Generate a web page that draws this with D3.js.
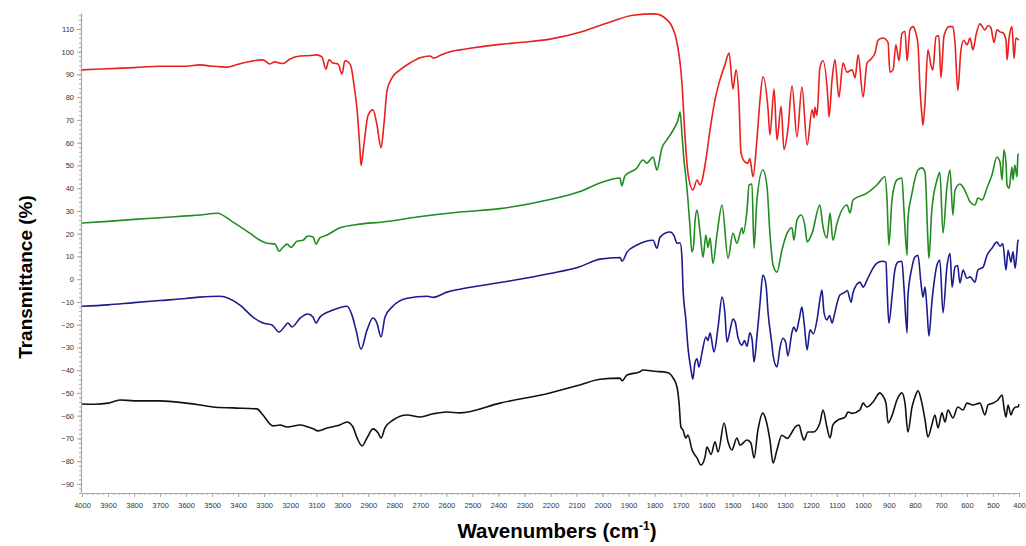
<!DOCTYPE html>
<html>
<head>
<meta charset="utf-8">
<script src="https://cdn.jsdelivr.net/npm/d3@7"></script>
<style>
  html, body { margin: 0; padding: 0; background: #fff; }
  svg { display: block; }
</style>
</head>
<body>
<svg id="chart" width="1026" height="546"></svg>
<script>
// ---- tick labels ----
const xTicks = d3.range(4000, 399, -100);
const yTicks = d3.range(-90, 111, 10);

// ---- series: [wavenumber (cm-1), transmittance (%)] ----
const redSeries = [[4000,92],[3900,92.5],[3800,93],[3700,93.6],[3600,93.6],[3547,94.2],[3500,93.6],[3443,93.2],[3400,94.5],[3350,95.8],[3305,96.4],[3278,94.6],[3260,95.5],[3247,95.2],[3228,94.8],[3201,96.8],[3162,98.1],[3124,98.3],[3101,98.6],[3078,97.7],[3063,92.3],[3051,96.4],[3036,95],[3016,94.6],[3001,90.2],[2990,96],[2978,95.5],[2967,93.7],[2955,85.4],[2943,74.4],[2932,56.8],[2928,50],[2917,59],[2901,72],[2882,74.4],[2867,68],[2851,57.8],[2840,68],[2828,83],[2809,88.5],[2778,92],[2740,95],[2701,97.3],[2663,98.1],[2648,97.2],[2625,98.3],[2586,100],[2548,100.8],[2509,101.5],[2394,103.2],[2317,104],[2202,105.5],[2087,108.5],[2010,111.5],[1960,113.5],[1883,116],[1799,116.6],[1752,114],[1733,111],[1714,104],[1695,86.3],[1684,64.3],[1672,46.7],[1653,39.2],[1637,43.6],[1626,41.4],[1603,52.4],[1587,65.6],[1568,78.8],[1549,87.6],[1530,94.2],[1514,99.4],[1499,83.6],[1487,92],[1476,78.8],[1468,55.5],[1453,51.5],[1441,51],[1434,53],[1422,45],[1407,61.2],[1395,78.8],[1384,89],[1364,74.4],[1357,63.4],[1341,83.6],[1330,61.2],[1314,76],[1303,57],[1288,65.6],[1272,85],[1253,62.5],[1234,84.5],[1214,59],[1195,74.4],[1187,71],[1184,75.5],[1176,72],[1165,93],[1153,96],[1134,78.8],[1130,71.3],[1118,88],[1107,96.4],[1092,80],[1076,95],[1061,91],[1041,92],[1030,88.5],[1018,98.6],[999,80],[984,95],[972,96.4],[953,99.4],[942,105],[922,106],[903,104],[896,91],[884,92],[873,103],[861,96],[850,108],[838,109],[830,96],[819,109.6],[807,111],[796,108],[788,103],[780,83],[773,72],[769,67.8],[761,78],[750,100.8],[738,94],[731,92],[719,106.5],[708,107],[700,88.5],[688,107],[669,111],[654,111],[646,104],[635,83],[623,100.8],[612,105],[600,103],[588,106],[577,100.8],[565,107.4],[550,112.2],[531,109.6],[519,111.5],[508,110.5],[496,104],[485,109.6],[473,108.7],[462,108.3],[450,105.2],[446,96.4],[438,106],[427,111],[419,97],[412,106],[400,105]];

const greenSeries = [[4000,24.7],[3900,25.4],[3800,26.3],[3700,27],[3600,27.8],[3547,28.2],[3481,29],[3420,25.1],[3355,20.2],[3316,17.1],[3289,15.8],[3258,15.4],[3243,12.3],[3228,14],[3212,15.4],[3197,14],[3174,16.7],[3151,17.1],[3132,19],[3112,18.5],[3101,15.4],[3086,18.1],[3059,19.4],[3009,22.6],[2932,24.2],[2844,25.1],[2713,27.3],[2548,29.5],[2394,31],[2202,35],[2087,38.5],[2010,42.3],[1933,44.5],[1926,41],[1914,45.4],[1868,48.9],[1845,52.4],[1830,51],[1806,53.7],[1791,48],[1772,57.7],[1753,61.2],[1733,64.7],[1718,67.8],[1710,70],[1702,73.5],[1695,64],[1687,52],[1680,45],[1672,35],[1664,23],[1657,12],[1650,15],[1645,25],[1637,30.4],[1625,20],[1614,9.7],[1603,19.4],[1595,14],[1587,18.1],[1576,7],[1560,20],[1541,32.6],[1518,9.2],[1499,20.2],[1484,15.8],[1464,22.6],[1460,20],[1445,30.4],[1437,41.4],[1426,41.8],[1418,13.6],[1407,34.8],[1384,48],[1368,40.5],[1357,20.2],[1345,6.2],[1330,3.1],[1311,12.7],[1291,20.2],[1272,22.6],[1265,17.1],[1253,26],[1237,28.2],[1222,23],[1214,16.4],[1195,20.2],[1165,32.6],[1153,23],[1138,18.1],[1126,29.1],[1115,17.1],[1099,24.6],[1061,32.6],[1049,29.1],[1038,34.8],[984,37.8],[946,41.4],[915,45],[907,34.8],[900,15],[888,34.8],[869,43.6],[850,44.5],[842,30.4],[830,10.5],[827,26],[811,37.8],[788,48],[773,48.9],[761,47],[750,17.1],[746,9.2],[735,30.4],[715,43.6],[704,47],[692,20.2],[677,40.5],[665,48],[654,28.2],[646,39],[627,41.8],[615,40.5],[600,37],[588,33.9],[569,32.6],[558,35.7],[542,34.8],[523,40.1],[504,45.8],[485,53.7],[473,51.5],[465,43.6],[458,56.8],[450,51],[446,41.4],[438,40],[427,49.3],[423,43.6],[416,50.2],[408,45],[404,54.6],[400,55]];

const blueSeries = [[4000,-11.9],[3900,-11.3],[3800,-10.3],[3700,-9.4],[3600,-8.5],[3547,-7.9],[3470,-7.5],[3393,-11.4],[3343,-16.7],[3305,-19.3],[3270,-20.1],[3243,-23.2],[3220,-20.6],[3209,-19.3],[3193,-21],[3162,-17.1],[3132,-15.3],[3112,-16.7],[3101,-19.3],[3086,-16.7],[3036,-13.6],[2982,-11.9],[2963,-15.7],[2947,-22.4],[2928,-30.8],[2905,-22.4],[2882,-17.1],[2867,-19.3],[2851,-25.4],[2836,-16.7],[2809,-12.3],[2751,-8.4],[2674,-7.5],[2651,-8],[2598,-5.7],[2548,-4.4],[2394,-1.5],[2202,2.5],[2087,5.5],[2010,8.8],[1933,9.5],[1925,7.9],[1906,11.9],[1868,15],[1806,17.1],[1791,13.6],[1779,18.5],[1741,20.7],[1725,19],[1714,15.8],[1702,16],[1695,9.7],[1691,-3.5],[1680,-17.9],[1672,-29.9],[1660,-40],[1653,-43.9],[1645,-36.8],[1637,-35],[1630,-38.6],[1618,-32.4],[1603,-25.4],[1595,-27],[1587,-23.6],[1572,-32],[1556,-21],[1541,-7.9],[1530,-15],[1522,-27.6],[1510,-22.3],[1499,-17.5],[1490,-19],[1480,-25.4],[1464,-29],[1455,-27],[1445,-29.5],[1434,-23.6],[1425,-27],[1418,-36.4],[1407,-25.4],[1395,-10.5],[1384,1.8],[1372,-2.6],[1364,-14.8],[1349,-29],[1345,-33.3],[1330,-38.6],[1318,-29.9],[1307,-26],[1296,-28],[1288,-33.7],[1272,-23.2],[1265,-21],[1256,-23],[1245,-17.9],[1234,-12.3],[1225,-20],[1214,-31.1],[1203,-22.3],[1190,-24],[1176,-17.9],[1165,-9.1],[1157,-4.8],[1149,-14.8],[1138,-17.9],[1128,-16],[1118,-19.3],[1110,-16],[1099,-10.5],[1088,-7],[1068,-5.7],[1060,-5],[1045,-10.1],[1038,-6],[1011,-1.3],[999,-3.5],[984,-0.4],[965,4],[946,7],[926,7.9],[911,7.5],[907,-3.5],[900,-19.3],[888,-7.9],[877,4],[865,7.5],[850,7.9],[842,-3.5],[830,-23.6],[827,-7.9],[811,5.3],[800,9.7],[788,10.5],[777,-1.3],[769,-7.9],[761,-3.5],[754,-12.3],[746,-25],[735,-10.5],[715,6.2],[704,8.3],[692,-14.8],[677,5.3],[665,11.4],[657,-3.5],[646,5.3],[636,6],[627,-1.7],[615,4],[600,0.4],[588,1],[569,-1.3],[558,4],[538,5.3],[523,10.5],[504,13.6],[485,16.3],[473,14.5],[462,15.5],[450,4],[442,12.7],[431,7.5],[423,12],[415,4.8],[408,12],[404,17.1],[400,17]];

const blackSeries = [[4000,-54.9],[3950,-55],[3900,-54.5],[3854,-53.1],[3800,-53.5],[3700,-53.5],[3600,-54.5],[3547,-55.3],[3497,-56.2],[3420,-56.6],[3328,-57],[3305,-59.7],[3266,-64.5],[3239,-64.1],[3212,-65],[3162,-64.1],[3132,-65],[3112,-65.8],[3093,-66.7],[3059,-65.4],[3009,-64.1],[2982,-62.8],[2959,-65],[2943,-69.8],[2924,-73.3],[2905,-69.8],[2882,-65.8],[2863,-67.5],[2851,-69.8],[2836,-65.4],[2805,-61.9],[2751,-59.7],[2701,-60.6],[2651,-59.2],[2598,-58.4],[2548,-58.8],[2394,-54.5],[2202,-50],[2087,-46.5],[2010,-44],[1933,-43.5],[1925,-44.7],[1906,-42.1],[1856,-40.7],[1845,-39.9],[1800,-40.5],[1752,-41],[1729,-43.4],[1714,-47.4],[1706,-54.5],[1699,-65],[1691,-66.3],[1680,-69.8],[1672,-68.5],[1656,-75.1],[1637,-78.6],[1622,-81.7],[1606,-78],[1599,-73.8],[1583,-77],[1568,-71.5],[1556,-76],[1533,-63.2],[1518,-71.5],[1503,-75.1],[1484,-69.8],[1472,-73],[1445,-70.7],[1430,-72],[1418,-78.6],[1403,-66.3],[1384,-58.9],[1372,-62],[1357,-70.7],[1345,-80.8],[1330,-75.1],[1311,-68.6],[1290,-70],[1272,-67.2],[1260,-65],[1245,-64.1],[1234,-68.6],[1226,-70.7],[1211,-67.2],[1190,-67.2],[1165,-63.2],[1153,-57.5],[1138,-65],[1126,-69.8],[1115,-64.1],[1095,-61.9],[1068,-60.6],[1057,-58.4],[1040,-59],[1011,-57.5],[999,-54.5],[984,-56.2],[961,-54],[934,-50],[925,-51],[911,-54.5],[903,-63.2],[888,-60],[869,-53.1],[850,-50],[838,-54.5],[827,-67.2],[811,-56.2],[800,-51.9],[788,-49.1],[773,-54.5],[761,-61.9],[750,-69.4],[735,-64.1],[723,-59.7],[711,-65.4],[696,-58.8],[684,-62.8],[673,-57.5],[654,-61],[635,-56.2],[615,-57.5],[600,-54.5],[577,-55.3],[550,-54.5],[531,-59.7],[519,-55.3],[500,-54.5],[481,-53.1],[465,-50.9],[458,-56.2],[450,-60.6],[442,-55.3],[431,-59.7],[423,-57.5],[412,-56.2],[404,-56.2],[400,-55]];

const seriesList = [
  { name: "red", data: redSeries, color: "#e8201f" },
  { name: "green", data: greenSeries, color: "#228b22" },
  { name: "blue", data: blueSeries, color: "#1c1c8e" },
  { name: "black", data: blackSeries, color: "#111111" }
];

// ---- layout ----
const svg = d3.select("#chart");
const x = d3.scaleLinear().domain([4000, 400]).range([82, 1019]);
const y = d3.scaleLinear().domain([-94, 117]).range([493, 13]);

const axisColor = "#a8a8a8";
const tickFont = "'Liberation Sans', Arial, sans-serif";
const fmt = d3.format("d");

// minor ticks
const gMinorY = svg.append("g").attr("transform", `translate(${x(4000) - 1},0)`)
  .call(d3.axisLeft(y).tickValues(d3.range(-94, 117, 2)).tickSize(2).tickFormat(""));
gMinorY.select(".domain").remove();
gMinorY.selectAll("line").attr("stroke", axisColor);

const gMinorX = svg.append("g").attr("transform", `translate(0,${y(-94)})`)
  .call(d3.axisBottom(x).tickValues(d3.range(4000, 399, -20)).tickSize(2).tickFormat(""));
gMinorX.select(".domain").remove();
gMinorX.selectAll("line").attr("stroke", axisColor);

// major axes
const gY = svg.append("g").attr("transform", `translate(${x(4000) - 1},0)`)
  .call(d3.axisLeft(y).tickValues(yTicks).tickFormat(fmt).tickSize(4).tickPadding(3).tickSizeOuter(0));
gY.select(".domain").attr("stroke", axisColor).attr("stroke-width", 1.2);
gY.selectAll("line").attr("stroke", axisColor);
gY.selectAll("text").attr("font-family", tickFont).attr("font-size", 7.5).attr("fill", "#333");

const gX = svg.append("g").attr("transform", `translate(0,${y(-94)})`)
  .call(d3.axisBottom(x).tickValues(xTicks).tickFormat(fmt).tickSize(4).tickPadding(6).tickSizeOuter(0));
gX.select(".domain").attr("stroke", axisColor).attr("stroke-width", 1.2);
gX.selectAll("line").attr("stroke", axisColor);
gX.selectAll("text").attr("font-family", tickFont).attr("font-size", 7.5).attr("fill", "#333");

// lines
const line = d3.line()
  .x(d => x(d[0]))
  .y(d => y(d[1]))
  .curve(d3.curveMonotoneX);

svg.append("g").selectAll("path")
  .data(seriesList)
  .join("path")
  .attr("d", d => line(d.data))
  .attr("fill", "none")
  .attr("stroke", d => d.color)
  .attr("stroke-width", 1.6)
  .attr("stroke-linejoin", "round");

// titles
svg.append("text")
  .attr("transform", "translate(32,277) rotate(-90)")
  .attr("text-anchor", "middle")
  .attr("font-family", tickFont)
  .attr("font-weight", "bold")
  .attr("font-size", 19)
  .attr("fill", "#000")
  .text("Transmittance (%)");

const xt = svg.append("text")
  .attr("x", 557)
  .attr("y", 538)
  .attr("text-anchor", "middle")
  .attr("font-family", tickFont)
  .attr("font-weight", "bold")
  .attr("font-size", 20.5)
  .attr("fill", "#000");
xt.append("tspan").text("Wavenumbers (cm");
xt.append("tspan").attr("font-size", 12).attr("dy", -8).text("-1");
xt.append("tspan").attr("dy", 8).text(")");
</script>
</body>
</html>
